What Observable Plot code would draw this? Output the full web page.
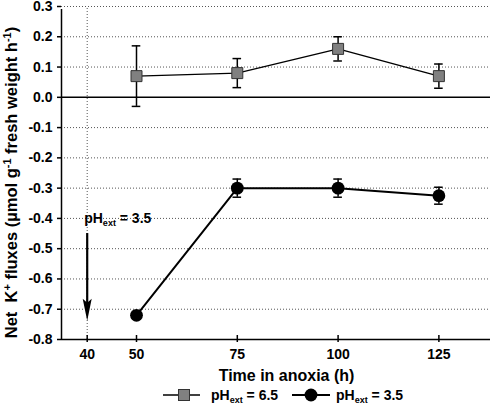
<!DOCTYPE html>
<html><head><meta charset="utf-8">
<script src="https://cdn.jsdelivr.net/npm/d3@7"></script>
<script src="https://cdn.jsdelivr.net/npm/@observablehq/plot@0.6"></script>
<style>
body{margin:0;background:#fff;font-family:"Liberation Sans",Arial,sans-serif;}
#wrap{position:relative;width:490px;height:410px;}
#chart svg{display:block;}
#legend{position:absolute;left:0;top:385px;width:490px;height:22px;font-weight:bold;font-size:14px;color:#000;}
#legend .lab{position:absolute;top:2px;white-space:nowrap;line-height:16px;}
#legend sub{font-size:9px;vertical-align:-3px;line-height:0;}
</style></head><body>
<div id="wrap"><div id="chart"></div><div id="legend"></div></div>
<script>
// ---- data ----
const times = [50, 75, 100, 125];
const ph65Mean = [0.07, 0.08, 0.16, 0.07];
const ph65Err = [0.10, 0.048, 0.04, 0.04];
const ph35Mean = [-0.72, -0.30, -0.30, -0.325];
const ph35Err = [0.01, 0.03, 0.03, 0.028];
const xTicks = [40, 50, 75, 100, 125];
const yTicks = [-0.8, -0.7, -0.6, -0.5, -0.4, -0.3, -0.2, -0.1, 0.0, 0.1, 0.2, 0.3];
const seriesNames = ["6.5", "3.5"];
const xTitle = "Time in anoxia (h)";
const yTitle = "Net  K+ fluxes (µmol g-1 fresh weight h-1)";
const annotTime = [40];
const annotLabel = ["pHext = 3.5"];
const annotLabelY = -0.4;
const arrowStart = -0.45;
const arrowEnd = -0.738;

// ---- build tables ----
const ph65 = times.map((t, i) => ({t, m: ph65Mean[i], lo: ph65Mean[i] - ph65Err[i], hi: ph65Mean[i] + ph65Err[i]}));
const ph35 = times.map((t, i) => ({t, m: ph35Mean[i], lo: ph35Mean[i] - ph35Err[i], hi: ph35Mean[i] + ph35Err[i]}));
const all = ph65.concat(ph35);

const W = 490, H = 385, ML = 61, MR = 0, MT = 6, MB = 46;
const yDomain = [-0.8, 0.3];
// the reference places its 40 h tick on a compressed stretch of the axis
const xDomain = [33.6, 40, 50, 137.8];
const xRange = [ML, 86.7, 136, W - MR];

const grid = {stroke: "#555", strokeWidth: 1, strokeDasharray: "1,2"};

const arrowHead = {
  draw(ctx) {
    ctx.moveTo(0, 0);
    ctx.lineTo(-4.5, -22);
    ctx.lineTo(0, -18);
    ctx.lineTo(4.5, -22);
    ctx.closePath();
  }
};

const plot = Plot.plot({
  width: W, height: H,
  marginLeft: ML, marginRight: MR, marginTop: MT, marginBottom: MB,
  style: {fontFamily: "'Liberation Sans', Arial, sans-serif", background: "white", color: "black", overflow: "visible"},
  x: {type: "linear", domain: xDomain, range: xRange},
  y: {domain: yDomain},
  marks: [
    Plot.ruleY(yTicks.filter(v => v !== 0 && v !== -0.8), {y: d => d, ...grid}),
    Plot.ruleX(annotTime, {x: d => d, y1: yDomain[0], y2: yDomain[1], ...grid}),
    Plot.ruleY([0], {y: d => d, stroke: "black", strokeWidth: 1.5}),
    // axis lines
    Plot.ruleX([xDomain[0]], {x: d => d, y1: yDomain[0], y2: yDomain[1], stroke: "black", strokeWidth: 1.5, insetBottom: -3}),
    Plot.ruleY([yDomain[0]], {y: d => d, stroke: "black", strokeWidth: 1.5}),
    // x ticks crossing the axis
    Plot.ruleX(xTicks, {x: d => d, y1: yDomain[0], y2: yDomain[0], insetTop: -4, insetBottom: -3, stroke: "black", strokeWidth: 1.5}),
    Plot.axisX({ticks: xTicks, tickSize: 0, tickPadding: 10, tickFormat: d => String(d), fontSize: 14, fontWeight: "bold", label: null}),
    Plot.axisY({ticks: yTicks, tickSize: 4, tickPadding: 5, tickFormat: d => d.toFixed(1), fontSize: 14, fontWeight: "bold", label: null, strokeWidth: 1.5}),
    Plot.text([xTitle], {frameAnchor: "bottom", text: d => d, dx: 10.5, dy: 41, lineAnchor: "bottom", fontSize: 16, fontWeight: "bold"}),
    Plot.text([yTitle], {frameAnchor: "left", text: d => d, rotate: -90, textAnchor: "middle", dx: -45, dy: 9.5, lineAnchor: "bottom", fontSize: 16.5, fontWeight: "bold"}),
    // annotation
    Plot.text(annotLabel, {x: annotTime[0], y: annotLabelY, text: d => d, textAnchor: "start", dx: -3, lineAnchor: "middle", fontSize: 14, fontWeight: "bold", fill: "black"}),
    Plot.ruleX(annotTime, {x: d => d, y1: arrowStart, y2: arrowEnd + 0.05, stroke: "black", strokeWidth: 2.2}),
    Plot.dot(annotTime, {x: d => d, y: arrowEnd, symbol: arrowHead, fill: "black", stroke: "none"}),
    // series
    Plot.line(ph65, {x: "t", y: "m", stroke: "black", strokeWidth: 1.4}),
    Plot.line(ph35, {x: "t", y: "m", stroke: "black", strokeWidth: 2}),
    Plot.ruleX(all, {x: "t", y1: "lo", y2: "hi", stroke: "black", strokeWidth: 1.5}),
    Plot.ruleY(all, {y: "hi", x1: "t", x2: "t", insetLeft: -4.3, insetRight: -4.3, stroke: "black", strokeWidth: 1.5}),
    Plot.ruleY(all, {y: "lo", x1: "t", x2: "t", insetLeft: -4.3, insetRight: -4.3, stroke: "black", strokeWidth: 1.5}),
    Plot.dot(ph65, {x: "t", y: "m", symbol: "square", r: 6.2, fill: "#808080", stroke: "#333", strokeWidth: 1}),
    Plot.dot(ph35, {x: "t", y: "m", symbol: "circle", r: 6.4, fill: "black", stroke: "none"})
  ]
});
document.getElementById("chart").appendChild(plot);

// rich text: superscripts and subscripts
const svg = d3.select(plot);
const pick = (content) => svg.selectAll("text").filter(function () { return this.textContent === content; });
const addSpan = (sel, txt, opts = {}) => {
  const s = sel.append("tspan").text(txt);
  if (opts.dy) s.attr("dy", opts.dy);
  if (opts.fs) s.attr("font-size", opts.fs);
  return s;
};
const yt = pick(yTitle);
yt.text(null).style("white-space", "pre");
addSpan(yt, "Net  K");
addSpan(yt, "+", {dy: -6, fs: 11});
addSpan(yt, " fluxes (µmol g", {dy: 6});
addSpan(yt, "-1", {dy: -6, fs: 11});
addSpan(yt, " fresh weight h", {dy: 6});
addSpan(yt, "-1", {dy: -6, fs: 11});
addSpan(yt, ")", {dy: 6});

const at = pick(annotLabel[0]);
at.text(null).style("white-space", "pre");
addSpan(at, "pH");
addSpan(at, "ext", {dy: 3, fs: 9});
addSpan(at, " = 3.5", {dy: -3});

// legend
const leg = document.getElementById("legend");
function item(lineX0, lineX1, symX, kind, labX, val) {
  const ns = "http://www.w3.org/2000/svg";
  const s = document.createElementNS(ns, "svg");
  s.setAttribute("width", 490); s.setAttribute("height", 22);
  s.style.position = "absolute"; s.style.left = "0"; s.style.top = "0";
  const l = document.createElementNS(ns, "line");
  l.setAttribute("x1", lineX0); l.setAttribute("x2", lineX1);
  l.setAttribute("y1", 10); l.setAttribute("y2", 10);
  l.setAttribute("stroke", "black"); l.setAttribute("stroke-width", kind === "square" ? 1.4 : 2);
  s.appendChild(l);
  if (kind === "square") {
    const r = document.createElementNS(ns, "rect");
    r.setAttribute("x", symX - 5.5); r.setAttribute("y", 4.5);
    r.setAttribute("width", 11); r.setAttribute("height", 11);
    r.setAttribute("fill", "#808080"); r.setAttribute("stroke", "#333");
    s.appendChild(r);
  } else {
    const c = document.createElementNS(ns, "circle");
    c.setAttribute("cx", symX); c.setAttribute("cy", 10); c.setAttribute("r", 6.4);
    c.setAttribute("fill", "black");
    s.appendChild(c);
  }
  leg.appendChild(s);
  const t = document.createElement("div");
  t.className = "lab";
  t.style.left = labX + "px";
  t.innerHTML = "pH<sub>ext</sub> = " + val;
  leg.appendChild(t);
}
item(163, 200, 184, "square", 211, seriesNames[0]);
item(292, 330, 311, "circle", 336, seriesNames[1]);
</script></body></html>
